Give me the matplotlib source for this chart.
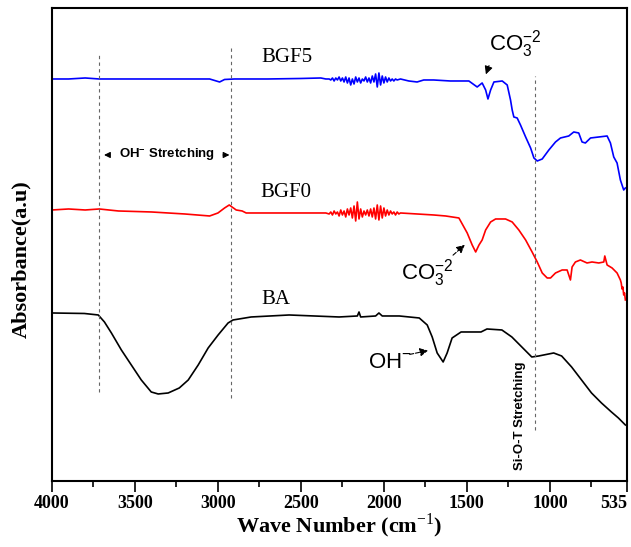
import matplotlib
matplotlib.use("Agg")
import matplotlib.pyplot as plt
from matplotlib.ticker import FixedLocator

plt.rcParams["mathtext.fontset"] = "custom"
plt.rcParams["mathtext.rm"] = "Liberation Serif"
plt.rcParams["mathtext.sf"] = "Liberation Sans"
plt.rcParams["mathtext.bf"] = "Liberation Sans:bold"

# FTIR spectra, wave number (cm-1) vs absorbance (arbitrary units, stacked)
bgf5_wn = [4000, 3900, 3800, 3715, 3600, 3400, 3200, 3050, 2990, 2960, 2900, 2700,
           2500, 2380, 2350,
           2330, 2320, 2310, 2300, 2290, 2280, 2270, 2260, 2250, 2240, 2230, 2220,
           2210, 2200, 2190, 2180, 2170, 2160, 2150, 2140, 2130, 2120, 2110, 2100,
           2090, 2080, 2070, 2060, 2050, 2040, 2030, 2020, 2010, 2000, 1990, 1980,
           1970, 1960, 1950, 1940, 1930, 1920, 1900,
           1850, 1800, 1760, 1700, 1600, 1488, 1438, 1408, 1387, 1373, 1357, 1337,
           1287, 1257, 1237, 1227, 1217, 1197, 1177, 1146, 1116, 1096, 1076, 1046,
           1006, 966, 936, 886, 856, 826, 806, 786, 755, 705, 655, 635, 615, 595,
           575, 555, 545]
bgf5_abs = [402, 402, 403, 402, 402, 402, 402, 402, 399, 401.5, 402, 402,
            402.5, 403, 402,
            402, 401, 403, 400, 403, 401, 404, 400, 403, 399, 404, 398,
            403, 396, 402, 397, 404, 399, 403, 398, 402, 400, 404, 399,
            403, 398, 405, 399, 407, 394, 408, 396, 405, 398, 404, 399,
            403, 400, 402, 400, 402, 401, 402,
            400, 399, 401, 401, 400, 400, 394, 398, 391, 382, 391, 399,
            400, 396, 381, 371, 364, 363, 356, 344, 333, 323, 320, 322,
            331, 339, 343, 345, 349, 348, 339, 338, 343, 344, 345, 338, 324, 318,
            301, 291, 293]

bgf0_wn = [4000, 3900, 3800, 3715, 3600, 3400, 3200, 3050, 3000, 2960, 2932, 2890,
           2854, 2830, 2700, 2500, 2350,
           2330, 2320, 2310, 2300, 2290, 2280, 2270, 2260, 2250, 2240, 2230, 2220,
           2210, 2200, 2190, 2180, 2170, 2160, 2150, 2140, 2130, 2120, 2110, 2100,
           2090, 2080, 2070, 2060, 2050, 2040, 2030, 2020, 2010, 2000, 1990, 1980,
           1970, 1960, 1950, 1940, 1930, 1920, 1910, 1900,
           1800, 1700, 1628, 1548, 1518, 1498, 1468, 1447, 1427, 1408, 1387, 1357,
           1327, 1267, 1227, 1187, 1146, 1107, 1076, 1046, 1016, 996, 966, 926,
           896, 876, 866, 846, 816, 776, 746, 705, 675, 669, 655, 625, 595, 575,
           570, 565, 560, 555, 550, 545]
bgf0_abs = [271, 272, 271, 272, 270, 269, 267, 265, 268, 273, 276, 271,
            270, 268, 268, 268, 268,
            267, 269, 266, 270, 267, 269, 265, 271, 266, 270, 264, 272,
            266, 273, 263, 275, 260, 279, 262, 272, 264, 270, 266, 271,
            265, 272, 264, 273, 262, 276, 261, 275, 263, 273, 265, 271,
            266, 270, 267, 269, 266, 269, 267, 268,
            267, 266, 265, 263, 254, 248, 236, 229, 236, 241, 251, 259,
            262, 262, 259, 251, 241, 229, 219, 208, 203, 203, 208, 211,
            211, 201, 214, 219, 221, 218, 219, 218, 219, 225, 216, 213, 208, 201,
            198, 192, 194, 186, 188, 181]

ba_wn = [4000, 3805, 3721, 3684, 3642, 3582, 3522, 3462, 3402, 3360, 3300, 3233,
         3179, 3119, 3059, 2999, 2939, 2909, 2800, 2571, 2270, 2160, 2150, 2140,
         2050, 2030, 2010, 1907, 1787, 1739, 1709, 1679, 1643, 1619, 1589, 1535,
         1415, 1379, 1289, 1229, 1169, 1109, 1067, 977, 929, 869, 809, 749, 689,
         629, 587, 545]
ba_abs = [168, 167.5, 166, 159, 148, 131, 116, 101, 89, 87, 88, 93,
          101, 116, 133, 146, 158, 161, 164, 166, 164, 165, 169, 164,
          165, 168, 165, 165, 163, 156, 144, 128, 119, 128, 143, 149,
          149, 152, 151, 144, 134, 124, 125, 128, 125, 114, 101, 88, 78,
          69, 63, 56]

guide_wn = [3715, 2920, 1090]
guide_lo = [89, 83, 51]
guide_hi = [429, 433, 405]

major_ticks = [4000, 3500, 3000, 2500, 2000, 1500, 1000, 535]
major_labels = ["4000", "3500", "3000", "2500", "2000", "1500", "1000", "535"]
minor_ticks = [3750, 3250, 2750, 2250, 1750, 1250, 750]

SERIF = "Liberation Serif"
SANS = "Liberation Sans"

fig = plt.figure(figsize=(6.31, 5.47), dpi=100)
ax = fig.add_axes([0.0824, 0.1207, 0.9113, 0.8647])

ax.plot(bgf5_wn, bgf5_abs, color="#0000ff", lw=1.2)
ax.plot(bgf0_wn, bgf0_abs, color="#ff0000", lw=1.2)
ax.plot(ba_wn, ba_abs, color="black", lw=1.2)

for wn, lo, hi in zip(guide_wn, guide_lo, guide_hi):
    ax.plot([wn, wn], [lo, hi], color="#666666", lw=0.8, ls=(0, (3, 3)))

ax.set_xlim(4000, 535)
ax.set_ylim(0, 473)
ax.xaxis.set_major_locator(FixedLocator(major_ticks))
ax.xaxis.set_minor_locator(FixedLocator(minor_ticks))
ax.set_xticklabels(major_labels, fontfamily=SERIF, fontweight="bold", fontsize=13)
ax.get_xticklabels()[-1].set_horizontalalignment("right")
ax.tick_params(axis="x", which="major", direction="out", length=8, width=1.2, pad=2)
ax.tick_params(axis="x", which="minor", direction="out", length=4, width=1.2)
ax.set_yticks([])
for sp in ax.spines.values():
    sp.set_linewidth(1.5)

ax.set_xlabel("Wave Number (cm$^{-1}$)", fontfamily=SERIF, fontweight="bold",
              fontsize=16, labelpad=0)
ax.set_ylabel("Absorbance(a.u)", fontfamily=SERIF, fontweight="bold", fontsize=16)
ax.yaxis.set_label_coords(-0.036, 0.47)

# sample names
ax.text(2583, 423, "BGF5", fontfamily=SERIF, fontsize=15, ha="center", va="center")
ax.text(2589, 288, "BGF0", fontfamily=SERIF, fontsize=15, ha="center", va="center")
ax.text(2649, 181, "BA", fontfamily=SERIF, fontsize=15, ha="center", va="center")

# band annotations
ax.text(1367, 437, r"CO$\mathsf{_3^{-2}}$", fontfamily=SANS, fontsize=16,
        ha="left", va="center")
ax.annotate("", xy=(1391, 404), xytext=(1361, 418),
            arrowprops=dict(arrowstyle="-|>", color="black", lw=0.8,
                            mutation_scale=12))

ax.text(1898, 208, r"CO$\mathsf{_3^{-2}}$", fontfamily=SANS, fontsize=16,
        ha="left", va="center")
ax.annotate("", xy=(1500, 238), xytext=(1596, 224),
            arrowprops=dict(arrowstyle="-|>", color="black", lw=0.8, ls="--",
                            mutation_scale=12))

ax.text(2096, 118, r"OH$\mathsf{^{-}}$", fontfamily=SANS, fontsize=16,
        ha="left", va="center")
ax.annotate("", xy=(1717, 131), xytext=(1861, 126),
            arrowprops=dict(arrowstyle="-|>", color="black", lw=0.8, ls="--",
                            mutation_scale=12))

ax.text(3310, 326, r"OH$\mathbf{^{-}}$ Stretching", fontfamily=SANS,
        fontweight="bold", fontsize=9.5, ha="center", va="center")
ax.annotate("", xy=(3703, 326), xytext=(3636, 326),
            arrowprops=dict(arrowstyle="-|>", color="black", lw=0.8,
                            mutation_scale=9))
ax.annotate("", xy=(2914, 326), xytext=(2986, 326),
            arrowprops=dict(arrowstyle="-|>", color="black", lw=0.8,
                            mutation_scale=9))

ax.text(1181, 11, "Si-O-T Stretching", fontfamily=SANS, fontweight="bold",
        fontsize=9.5, rotation=90, ha="center", va="bottom")

fig.savefig("out.png", dpi=100)
